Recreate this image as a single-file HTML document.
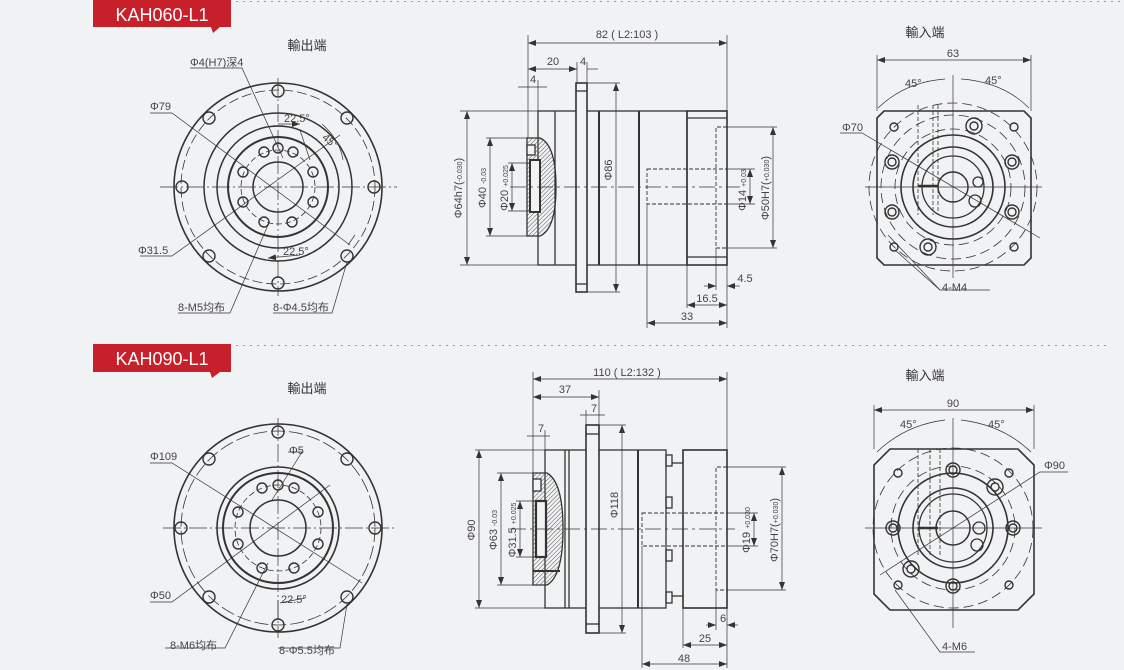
<!DOCTYPE html>
<html><head><meta charset="utf-8"><style>
html,body{margin:0;padding:0;background:#f1f2f4;}
svg{display:block;}
text{font-family:"Liberation Sans","Noto Sans CJK SC",sans-serif;fill:#444;}
</style></head><body>
<svg width="1124" height="670" viewBox="0 0 1124 670" xmlns="http://www.w3.org/2000/svg">
<defs>
<pattern id="h" width="3" height="3" patternUnits="userSpaceOnUse" patternTransform="rotate(45)"><line x1="0" y1="0" x2="0" y2="3" stroke="#555" stroke-width="1"/></pattern>
<marker id="a" markerWidth="8" markerHeight="6" refX="8" refY="3" orient="auto-start-reverse" markerUnits="userSpaceOnUse"><path d="M0,0 L8,3 L0,6z" fill="#333"/></marker>
</defs>
<rect width="1124" height="670" fill="#f1f2f4"/>
<!-- banners -->
<line x1="236" y1="1.5" x2="1124" y2="1.5" stroke="#999" stroke-dasharray="2,5"/>
<path d="M93,0 H231 V27 H220 L213,33 L211,27 H93z" fill="#c8202a"/>
<text x="162" y="21" text-anchor="middle" style="fill:#fff;font-size:18px">KAH060-L1</text>
<line x1="236" y1="345.5" x2="1110" y2="345.5" stroke="#999" stroke-dasharray="2,5"/>
<path d="M93,344 H231 V372 H220 L212,378 L210,372 H93z" fill="#c8202a"/>
<text x="162" y="365" text-anchor="middle" style="fill:#fff;font-size:18px">KAH090-L1</text>

<g stroke="#333" fill="none" stroke-width="1.2">
<!-- ============ TOP LEFT flange ============ -->
<circle cx="278" cy="187" r="104" stroke-width="1.6"/>
<circle cx="278" cy="187" r="97" stroke-dasharray="10,4" stroke-width="0.8"/>
<circle cx="278" cy="187" r="74" stroke-width="1.5"/>
<circle cx="278" cy="187" r="61" stroke-width="1.5"/>
<circle cx="278" cy="187" r="50" stroke-width="2"/>
<circle cx="278" cy="187" r="37" stroke-dasharray="6,3" stroke-width="0.8"/>
<circle cx="278" cy="187" r="25" stroke-width="1.5"/>
<g stroke-width="1.4">
<circle cx="278" cy="91" r="6"/><circle cx="182" cy="187" r="6"/><circle cx="374" cy="187" r="6"/><circle cx="278" cy="283" r="6"/>
<circle cx="209" cy="118" r="6"/><circle cx="347" cy="118" r="6"/><circle cx="209" cy="256" r="6"/><circle cx="347" cy="256" r="6"/>
<circle cx="264" cy="152" r="5"/><circle cx="293" cy="152" r="5"/><circle cx="243" cy="172" r="5"/><circle cx="313" cy="172" r="5"/>
<circle cx="243" cy="202" r="5"/><circle cx="313" cy="202" r="5"/><circle cx="264" cy="222" r="5"/><circle cx="292" cy="222" r="5"/>
<circle cx="278" cy="148" r="5"/>
</g>
<g stroke-width="0.7">
<line x1="160" y1="187" x2="397" y2="187" stroke-dasharray="18,3,2,3"/>
<line x1="278" y1="78" x2="278" y2="296" stroke-dasharray="18,3,2,3"/>
<polyline points="150,113 172,113 350,245"/>
<polyline points="140,256 172,256 340,135"/>
<polyline points="190,68 242,68 283,158"/>
<polyline points="178,313 230,313 268,225"/>
<polyline points="273,313 332,313 347,262"/>
<line x1="278" y1="124" x2="300" y2="124" marker-end="url(#a)"/>
<line x1="300" y1="130" x2="310" y2="160"/>
<path d="M322,124 Q340,140 343,160"/>
<line x1="268" y1="258" x2="300" y2="255" marker-start="url(#a)"/>
<line x1="348" y1="245" x2="355" y2="235"/>
</g>
</g>
<g style="font-size:11px">
<text x="307" y="50" text-anchor="middle" style="font-size:13px;fill:#333">輸出端</text>
<text x="190" y="66">Φ4(H7)深4</text>
<text x="150" y="110">Φ79</text>
<text x="138" y="254">Φ31.5</text>
<text x="178" y="311">8-M5均布</text>
<text x="273" y="311">8-Φ4.5均布</text>
<text x="284" y="122">22.5°</text>
<text x="322" y="143" transform="rotate(40 328 140)">45°</text>
<text x="283" y="255">22.5°</text>
</g>

<!-- ============ TOP MIDDLE side ============ -->
<g stroke="#333" fill="none" stroke-width="1.3">
<rect x="538" y="111" width="149" height="154"/>
<line x1="555" y1="111" x2="555" y2="265"/>
<line x1="599" y1="111" x2="599" y2="265" stroke-width="2"/>
<line x1="639" y1="111" x2="639" y2="265" stroke-width="2"/>
<rect x="687" y="111" width="40" height="154" stroke-width="1.6"/>
<line x1="687" y1="118" x2="727" y2="118"/>
<line x1="687" y1="257" x2="727" y2="257"/>
<rect x="576" y="83" width="11" height="209" fill="#f1f2f4" stroke-width="1.6"/>
<line x1="576" y1="91" x2="587" y2="91"/><line x1="576" y1="284" x2="587" y2="284"/>
<path d="M527,138 H540 Q556,145 556,187 Q556,229 540,236 H527z" fill="url(#h)"/>
<rect x="530" y="160" width="10" height="52" fill="#f1f2f4" stroke-width="2"/>
<rect x="527" y="145" width="8" height="10" fill="#f1f2f4"/>
<g stroke-dasharray="4,2" stroke-width="0.9">
<rect x="647" y="169" width="80" height="35"/>
<polyline points="727,127 716,127 716,248 727,248"/>
</g>
<line x1="510" y1="187" x2="740" y2="187" stroke-width="0.7" stroke-dasharray="16,4,3,4"/>
<g stroke-width="0.7">
<line x1="528" y1="35" x2="528" y2="138"/><line x1="727" y1="35" x2="727" y2="111"/>
<line x1="528" y1="43" x2="727" y2="43" marker-start="url(#a)" marker-end="url(#a)"/>
<line x1="528" y1="69" x2="577" y2="69" marker-start="url(#a)" marker-end="url(#a)"/>
<line x1="577" y1="62" x2="577" y2="83"/><line x1="587" y1="62" x2="587" y2="83"/>
<line x1="587" y1="69" x2="598" y2="69"/>
<line x1="518" y1="87" x2="547" y2="87"/><line x1="538" y1="80" x2="538" y2="111"/>
<line x1="460" y1="111" x2="538" y2="111"/><line x1="460" y1="265" x2="538" y2="265"/>
<line x1="467" y1="111" x2="467" y2="265" marker-start="url(#a)" marker-end="url(#a)"/>
<line x1="486" y1="138" x2="527" y2="138"/><line x1="486" y1="236" x2="527" y2="236"/>
<line x1="490" y1="138" x2="490" y2="236" marker-start="url(#a)" marker-end="url(#a)"/>
<line x1="508" y1="163" x2="530" y2="163"/><line x1="508" y1="211" x2="530" y2="211"/>
<line x1="512" y1="163" x2="512" y2="211" marker-start="url(#a)" marker-end="url(#a)"/>
<line x1="587" y1="83" x2="620" y2="83"/><line x1="587" y1="292" x2="620" y2="292"/>
<line x1="616" y1="83" x2="616" y2="292" marker-start="url(#a)" marker-end="url(#a)"/>
<line x1="727" y1="169" x2="755" y2="169"/><line x1="727" y1="204" x2="755" y2="204"/>
<line x1="750" y1="169" x2="750" y2="204" marker-start="url(#a)" marker-end="url(#a)"/>
<line x1="727" y1="127" x2="777" y2="127"/><line x1="727" y1="248" x2="777" y2="248"/>
<line x1="773" y1="127" x2="773" y2="248" marker-start="url(#a)" marker-end="url(#a)"/>
<line x1="716" y1="248" x2="716" y2="290"/><line x1="727" y1="265" x2="727" y2="328"/>
<line x1="687" y1="265" x2="687" y2="308"/><line x1="647" y1="204" x2="647" y2="328"/>
<line x1="704" y1="286" x2="716" y2="286" marker-end="url(#a)"/><line x1="740" y1="286" x2="727" y2="286" marker-end="url(#a)"/>
<line x1="687" y1="305" x2="727" y2="305" marker-start="url(#a)" marker-end="url(#a)"/>
<line x1="647" y1="323" x2="727" y2="323" marker-start="url(#a)" marker-end="url(#a)"/>
</g>
</g>
<g style="font-size:11px">
<text x="627" y="38" text-anchor="middle">82 ( L2:103 )</text>
<text x="553" y="65" text-anchor="middle">20</text>
<text x="583" y="65" text-anchor="middle">4</text>
<text x="533" y="83" text-anchor="middle">4</text>
<text x="745" y="282" text-anchor="middle">4.5</text>
<text x="707" y="302" text-anchor="middle">16.5</text>
<text x="687" y="320" text-anchor="middle">33</text>
<text transform="translate(462,188) rotate(-90)" text-anchor="middle">Φ64h7(<tspan style="font-size:7px">-0.030</tspan>)</text>
<text transform="translate(486,188) rotate(-90)" text-anchor="middle">Φ40 <tspan style="font-size:7px">-0.03</tspan></text>
<text transform="translate(508,188) rotate(-90)" text-anchor="middle">Φ20 <tspan style="font-size:7px">+0.025</tspan></text>
<text transform="translate(612,170) rotate(-90)" text-anchor="middle">Φ86</text>
<text transform="translate(746,190) rotate(-90)" text-anchor="middle">Φ14 <tspan style="font-size:7px">+0.03</tspan></text>
<text transform="translate(769,188) rotate(-90)" text-anchor="middle">Φ50H7(<tspan style="font-size:7px">+0.030</tspan>)</text>
</g>

<!-- ============ TOP RIGHT input ============ -->
<g stroke="#333" fill="none" stroke-width="1.3">
<path d="M884,111 H1024 L1031,118 V258 L1024,265 H884 L877,258 V118z" stroke-width="1.6"/>
<circle cx="953" cy="187" r="84" stroke-dasharray="10,5" stroke-width="0.8"/>
<circle cx="953" cy="187" r="72" stroke-dasharray="10,5" stroke-width="0.8"/>
<circle cx="953" cy="187" r="58" stroke-dasharray="10,5" stroke-width="0.8"/>
<circle cx="953" cy="187" r="52" stroke-width="1.6"/>
<circle cx="953" cy="187" r="40" stroke-width="1.6"/>
<circle cx="953" cy="187" r="31" stroke-width="1.3"/>
<circle cx="953" cy="187" r="15" stroke-width="1.5"/>
<circle cx="978" cy="182" r="5"/><circle cx="975" cy="201" r="6"/>
<g stroke-width="1.4">
<circle cx="894" cy="127" r="4"/><circle cx="1014" cy="127" r="4"/><circle cx="894" cy="247" r="4"/><circle cx="1014" cy="247" r="4"/>
<circle cx="892" cy="162" r="7"/><circle cx="892" cy="162" r="4"/>
<circle cx="1012" cy="162" r="7"/><circle cx="1012" cy="162" r="4"/>
<circle cx="892" cy="212" r="7"/><circle cx="892" cy="212" r="4"/>
<circle cx="1012" cy="212" r="7"/><circle cx="1012" cy="212" r="4"/>
<circle cx="974" cy="126" r="8"/><circle cx="974" cy="126" r="4"/>
<circle cx="928" cy="247" r="8"/><circle cx="928" cy="247" r="4"/>
</g>
<line x1="918" y1="186" x2="938" y2="186" stroke-width="2.5"/>
<g stroke-dasharray="4,2" stroke-width="0.8"><line x1="918" y1="105" x2="918" y2="215"/><line x1="933" y1="105" x2="933" y2="215"/><line x1="938" y1="105" x2="938" y2="215"/></g>
<g stroke-width="0.7">
<line x1="865" y1="187" x2="1042" y2="187"/>
<line x1="953" y1="75" x2="953" y2="278"/>
<line x1="877" y1="55" x2="877" y2="111"/><line x1="1031" y1="55" x2="1031" y2="111"/>
<line x1="877" y1="60" x2="1031" y2="60" marker-start="url(#a)" marker-end="url(#a)"/>
<path d="M878,108 Q905,82 945,79"/><path d="M961,79 Q1003,82 1029,108"/>
<polyline points="840,133 862,133 1040,238"/>
<polyline points="990,290 940,290 895,250"/>
<line x1="940" y1="290" x2="888" y2="235"/>
</g>
</g>
<g style="font-size:11px">
<text x="925" y="37" text-anchor="middle" style="font-size:13px;fill:#333">輸入端</text>
<text x="953" y="57" text-anchor="middle">63</text>
<text x="905" y="87">45°</text>
<text x="985" y="84">45°</text>
<text x="842" y="131">Φ70</text>
<text x="942" y="291">4-M4</text>
</g>

<!-- ============ BOTTOM LEFT flange ============ -->
<g stroke="#333" fill="none" stroke-width="1.2">
<circle cx="278" cy="528" r="104" stroke-width="1.6"/>
<circle cx="278" cy="528" r="97" stroke-dasharray="14,4" stroke-width="0.8"/>
<circle cx="278" cy="528" r="61" stroke-width="1.6"/>
<circle cx="278" cy="528" r="55" stroke-width="2"/>
<circle cx="278" cy="528" r="43" stroke-dasharray="6,3" stroke-width="0.8"/>
<circle cx="278" cy="528" r="28" stroke-width="1.6"/>
<g stroke-width="1.4">
<circle cx="278" cy="432" r="6"/><circle cx="181" cy="528" r="6"/><circle cx="375" cy="528" r="6"/><circle cx="278" cy="625" r="6"/>
<circle cx="209" cy="459" r="6"/><circle cx="347" cy="459" r="6"/><circle cx="209" cy="597" r="6"/><circle cx="347" cy="597" r="6"/>
<circle cx="262" cy="488" r="5"/><circle cx="294" cy="488" r="5"/><circle cx="238" cy="512" r="5"/><circle cx="318" cy="512" r="5"/>
<circle cx="238" cy="544" r="5"/><circle cx="318" cy="544" r="5"/><circle cx="262" cy="568" r="5"/><circle cx="294" cy="568" r="5"/>
<circle cx="278" cy="485" r="5"/>
</g>
<g stroke-width="0.7">
<line x1="163" y1="528" x2="397" y2="528" stroke-dasharray="18,3,2,3"/>
<line x1="278" y1="418" x2="278" y2="638" stroke-dasharray="18,3,2,3"/>
<polyline points="150,463 172,463 362,583"/>
<polyline points="150,602 172,602 330,485"/>
<polyline points="288,452 302,452 272,500"/>
<polyline points="165,648 225,648 268,563"/>
<polyline points="278,648 340,648 347,604"/>
<line x1="280" y1="603" x2="305" y2="598"/>
<line x1="278" y1="600" x2="278" y2="620"/>
</g>
</g>
<g style="font-size:11px">
<text x="307" y="393" text-anchor="middle" style="font-size:13px;fill:#333">輸出端</text>
<text x="150" y="460">Φ109</text>
<text x="289" y="454">Φ5</text>
<text x="150" y="599">Φ50</text>
<text x="170" y="649">8-M6均布</text>
<text x="279" y="654">8-Φ5.5均布</text>
<text x="281" y="603">22.5°</text>
</g>

<!-- ============ BOTTOM MIDDLE side ============ -->
<g stroke="#333" fill="none" stroke-width="1.3">
<rect x="545" y="450" width="121" height="158"/>
<line x1="565" y1="450" x2="565" y2="608"/>
<line x1="569" y1="450" x2="569" y2="608"/>
<line x1="638" y1="450" x2="638" y2="608" stroke-width="2"/>
<rect x="666" y="455" width="6" height="11"/><rect x="666" y="497" width="6" height="11"/><rect x="666" y="550" width="6" height="11"/><rect x="666" y="592" width="6" height="11"/>
<line x1="672" y1="463" x2="683" y2="463"/><line x1="672" y1="596" x2="683" y2="596"/>
<rect x="683" y="450" width="44" height="158" stroke-width="1.6"/>
<rect x="586" y="425" width="13" height="208" fill="#f1f2f4" stroke-width="1.6"/>
<line x1="586" y1="434" x2="599" y2="434"/><line x1="586" y1="624" x2="599" y2="624"/>
<path d="M533,473 H547 Q563,482 563,529 Q563,576 547,585 H533z" fill="url(#h)"/>
<rect x="536" y="501" width="10" height="56" fill="#f1f2f4" stroke-width="2.2"/>
<rect x="533" y="479" width="8" height="12" fill="#f1f2f4"/>
<line x1="533" y1="571" x2="560" y2="571" stroke-width="2"/>
<g stroke-dasharray="4,2" stroke-width="0.9">
<rect x="642" y="513" width="85" height="33"/>
<polyline points="727,467 716,467 716,590 727,590"/>
</g>
<line x1="510" y1="529" x2="735" y2="529" stroke-width="0.7" stroke-dasharray="16,4,3,4"/>
<g stroke-width="0.7">
<line x1="533" y1="372" x2="533" y2="473"/><line x1="727" y1="372" x2="727" y2="450"/>
<line x1="533" y1="379" x2="727" y2="379" marker-start="url(#a)" marker-end="url(#a)"/>
<line x1="533" y1="397" x2="599" y2="397" marker-start="url(#a)" marker-end="url(#a)"/>
<line x1="599" y1="390" x2="599" y2="425"/><line x1="586" y1="410" x2="586" y2="425"/>
<line x1="580" y1="415" x2="605" y2="415"/>
<line x1="545" y1="430" x2="545" y2="450"/>
<line x1="527" y1="436" x2="550" y2="436"/>
<line x1="475" y1="450" x2="545" y2="450"/><line x1="475" y1="608" x2="545" y2="608"/>
<line x1="479" y1="450" x2="479" y2="608" marker-start="url(#a)" marker-end="url(#a)"/>
<line x1="497" y1="473" x2="533" y2="473"/><line x1="497" y1="585" x2="533" y2="585"/>
<line x1="501" y1="473" x2="501" y2="585" marker-start="url(#a)" marker-end="url(#a)"/>
<line x1="516" y1="501" x2="536" y2="501"/><line x1="516" y1="557" x2="536" y2="557"/>
<line x1="520" y1="501" x2="520" y2="557" marker-start="url(#a)" marker-end="url(#a)"/>
<line x1="599" y1="425" x2="626" y2="425"/><line x1="599" y1="633" x2="626" y2="633"/>
<line x1="622" y1="425" x2="622" y2="633" marker-start="url(#a)" marker-end="url(#a)"/>
<line x1="727" y1="513" x2="758" y2="513"/><line x1="727" y1="546" x2="758" y2="546"/>
<line x1="754" y1="513" x2="754" y2="546" marker-start="url(#a)" marker-end="url(#a)"/>
<line x1="727" y1="467" x2="786" y2="467"/><line x1="727" y1="590" x2="786" y2="590"/>
<line x1="782" y1="467" x2="782" y2="590" marker-start="url(#a)" marker-end="url(#a)"/>
<line x1="716" y1="590" x2="716" y2="630"/><line x1="727" y1="608" x2="727" y2="668"/>
<line x1="683" y1="608" x2="683" y2="648"/><line x1="642" y1="546" x2="642" y2="668"/>
<line x1="706" y1="625" x2="716" y2="625" marker-end="url(#a)"/><line x1="738" y1="625" x2="727" y2="625" marker-end="url(#a)"/>
<line x1="683" y1="645" x2="727" y2="645" marker-start="url(#a)" marker-end="url(#a)"/>
<line x1="642" y1="664" x2="727" y2="664" marker-start="url(#a)" marker-end="url(#a)"/>
</g>
</g>
<g style="font-size:11px">
<text x="627" y="376" text-anchor="middle">110 ( L2:132 )</text>
<text x="565" y="393" text-anchor="middle">37</text>
<text x="594" y="412" text-anchor="middle">7</text>
<text x="541" y="432" text-anchor="middle">7</text>
<text x="723" y="622" text-anchor="middle">6</text>
<text x="705" y="642" text-anchor="middle">25</text>
<text x="684" y="662" text-anchor="middle">48</text>
<text transform="translate(475,530) rotate(-90)" text-anchor="middle">Φ90</text>
<text transform="translate(497,530) rotate(-90)" text-anchor="middle">Φ63 <tspan style="font-size:7px">-0.03</tspan></text>
<text transform="translate(516,530) rotate(-90)" text-anchor="middle">Φ31.5 <tspan style="font-size:7px">+0.025</tspan></text>
<text transform="translate(618,505) rotate(-90)" text-anchor="middle">Φ118</text>
<text transform="translate(750,530) rotate(-90)" text-anchor="middle">Φ19 <tspan style="font-size:7px">+0.030</tspan></text>
<text transform="translate(778,530) rotate(-90)" text-anchor="middle">Φ70H7(<tspan style="font-size:7px">+0.030</tspan>)</text>
</g>

<!-- ============ BOTTOM RIGHT input ============ -->
<g stroke="#333" fill="none" stroke-width="1.3">
<path d="M890,449 H1018 L1034,465 V594 L1018,610 H890 L874,594 V465z" stroke-width="1.6"/>
<circle cx="953" cy="528" r="80" stroke-dasharray="10,5" stroke-width="0.8"/>
<circle cx="953" cy="528" r="62" stroke-dasharray="10,5" stroke-width="0.8"/>
<circle cx="953" cy="528" r="55" stroke-width="1.6"/>
<circle cx="953" cy="528" r="40" stroke-width="1.6"/>
<circle cx="953" cy="528" r="34" stroke-width="1.3"/>
<circle cx="953" cy="528" r="17" stroke-width="1.5"/>
<circle cx="979" cy="528" r="6"/><circle cx="977" cy="545" r="6"/>
<g stroke-width="1.4">
<circle cx="898" cy="473" r="4"/><circle cx="1009" cy="473" r="4"/><circle cx="898" cy="585" r="4"/><circle cx="1009" cy="585" r="4"/>
<circle cx="953" cy="470" r="7"/><circle cx="953" cy="470" r="4"/>
<circle cx="953" cy="586" r="7"/><circle cx="953" cy="586" r="4"/>
<circle cx="893" cy="528" r="7"/><circle cx="893" cy="528" r="4"/>
<circle cx="1013" cy="528" r="7"/><circle cx="1013" cy="528" r="4"/>
<circle cx="995" cy="487" r="8"/><circle cx="995" cy="487" r="4"/>
<circle cx="911" cy="569" r="8"/><circle cx="911" cy="569" r="4"/>
</g>
<line x1="918" y1="528" x2="938" y2="528" stroke-width="2.5"/>
<g stroke-dasharray="4,2" stroke-width="0.8"><line x1="918" y1="449" x2="918" y2="555"/><line x1="930" y1="449" x2="930" y2="555"/><line x1="940" y1="449" x2="940" y2="555"/></g>
<g stroke-width="0.7">
<line x1="865" y1="528" x2="1042" y2="528"/>
<line x1="953" y1="418" x2="953" y2="628"/>
<line x1="874" y1="405" x2="874" y2="449"/><line x1="1034" y1="405" x2="1034" y2="449"/>
<line x1="874" y1="410" x2="1034" y2="410" marker-start="url(#a)" marker-end="url(#a)"/>
<path d="M877,452 Q905,425 945,420"/><path d="M961,420 Q1003,425 1031,452"/>
<polyline points="1068,472 1040,472 880,575"/>
<polyline points="975,652 940,652 895,590"/>
</g>
</g>
<g style="font-size:11px">
<text x="925" y="380" text-anchor="middle" style="font-size:13px;fill:#333">輸入端</text>
<text x="953" y="407" text-anchor="middle">90</text>
<text x="900" y="428">45°</text>
<text x="988" y="428">45°</text>
<text x="1044" y="469">Φ90</text>
<text x="942" y="650">4-M6</text>
</g>
</svg>
</body></html>
